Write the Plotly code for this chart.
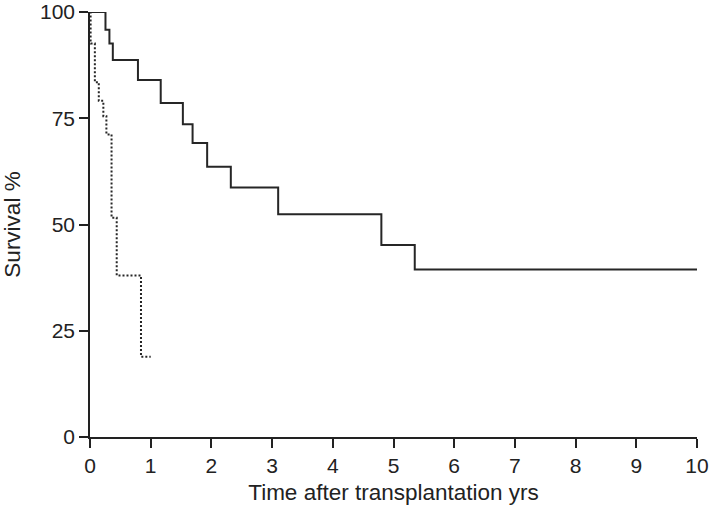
import plotly.graph_objects as go

# Kaplan-Meier step data (time of event, survival after event)
solid_time = [0, 0.255, 0.32, 0.376, 0.79, 1.165, 1.53, 1.69, 1.93, 2.32, 3.10, 4.80, 5.35, 10]
solid_surv = [100, 95.8, 92.6, 88.7, 84.0, 78.6, 73.6, 69.2, 63.6, 58.7, 52.4, 45.2, 39.4, 39.4]

dotted_time = [0, 0.01, 0.08, 0.145, 0.22, 0.27, 0.355, 0.44, 0.84, 1.0]
dotted_surv = [100, 92.6, 83.5, 79.1, 75.5, 71.2, 51.6, 38.0, 18.9, 18.9]

x_ticks = list(range(0, 11))
y_ticks = [0, 25, 50, 75, 100]

fig = go.Figure()
fig.add_trace(go.Scatter(x=solid_time, y=solid_surv, mode="lines", line_shape="hv",
                         line=dict(color="#262626", width=2), showlegend=False))
fig.add_trace(go.Scatter(x=dotted_time, y=dotted_surv, mode="lines", line_shape="hv",
                         line=dict(color="#262626", width=2, dash="2px,2px"), showlegend=False))

fam = "Liberation Sans, Arial, sans-serif"
tickfont = dict(family=fam, size=21, color="#222222")
titlefont = dict(family=fam, size=22.5, color="#222222")

fig.update_layout(
    width=720, height=507,
    margin=dict(l=90, r=23, t=12, b=70),
    paper_bgcolor="white", plot_bgcolor="white",
    font=tickfont,
    hovermode=False,
    xaxis=dict(range=[0, 10], tickvals=x_ticks, ticktext=[str(v) for v in x_ticks],
               showline=True, linecolor="#222222", linewidth=1.5, ticks="outside",
               ticklen=9, tickwidth=1.5, tickcolor="#222222", showgrid=False, zeroline=False,
               tickfont=tickfont, automargin=False,
               title=dict(text="Time after transplantation yrs", font=titlefont, standoff=8)),
    yaxis=dict(range=[0, 100], tickvals=y_ticks, ticktext=[str(v) for v in y_ticks],
               showline=True, linecolor="#222222", linewidth=1.5, ticks="outside",
               ticklen=9, tickwidth=1.5, tickcolor="#222222", showgrid=False, zeroline=False,
               tickfont=tickfont, automargin=False,
               title=dict(text="Survival %", font=titlefont, standoff=17)),
)
fig.write_html("out.html", config={"displayModeBar": False},
               post_script="document.body.style.margin='0';")
